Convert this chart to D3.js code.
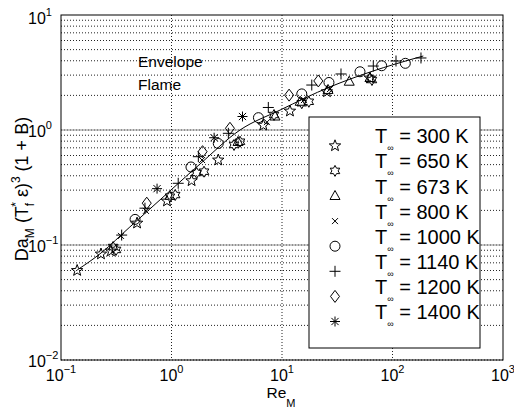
<!DOCTYPE html>
<html>
<head>
<meta charset="utf-8">
<script src="https://cdn.jsdelivr.net/npm/d3@7"></script>
<style>
  body { margin: 0; background: #fff; }
  text { font-family: "Liberation Sans", Arial, Helvetica, sans-serif; fill: #000; }
</style>
</head>
<body>
<div id="chart"></div>
<script>
// axis decades and their exponent labels
const xDecades = [0.1, 1, 10, 100, 1000];
const xExp = ["\u22121", "0", "1", "2", "3"];
const yDecades = [0.01, 0.1, 1, 10];
const yExp = ["\u22122", "\u22121", "0", "1"];

// T = 300 K (pentagram)
const re300 = [0.14, 0.23, 0.283, 0.488, 0.91, 1.52, 2.65, 6.78, 11.8, 25.5, 62.5];
const da300 = [0.060, 0.0835, 0.0887, 0.155, 0.241, 0.362, 0.548, 1.10, 1.46, 2.15, 2.83];
// T = 650 K (hexagram)
const re650 = [0.296, 0.315, 0.968, 1.08, 1.69, 1.97, 3.68, 4.17, 8.47, 15.1, 17.5, 65.2];
const da650 = [0.096, 0.0906, 0.263, 0.272, 0.423, 0.434, 0.741, 0.791, 1.35, 1.71, 1.76, 2.72];
// T = 673 K (triangle)
const re673 = [4.0, 8.64, 14.6, 26.1, 40.6, 62.5];
const da673 = [0.787, 1.31, 1.76, 2.23, 2.63, 2.83];
// T = 800 K (x)
const re800 = [0.349, 0.587, 1.89, 7.31, 15.8, 27.2];
const da800 = [0.120, 0.198, 0.548, 1.17, 1.82, 2.27];
// T = 1000 K (circle)
const re1000 = [0.468, 1.50, 2.65, 6.12, 15.1, 26.6, 50.8, 79.8, 130.6];
const da1000 = [0.167, 0.477, 0.763, 1.28, 2.06, 2.59, 3.21, 3.62, 3.80];
// T = 1140 K (plus)
const re1140 = [0.354, 0.575, 1.15, 1.75, 3.27, 7.52, 18.6, 34.2, 67.0, 107.6, 181];
const da1140 = [0.122, 0.209, 0.344, 0.586, 0.936, 1.57, 2.46, 3.07, 3.60, 3.98, 4.23];
// T = 1200 K (diamond)
const re1200 = [0.597, 1.91, 3.38, 11.6, 21.3];
const da1200 = [0.231, 0.648, 1.035, 2.01, 2.67];
// T = 1400 K (asterisk)
const re1400 = [0.740, 2.43, 4.39];
const da1400 = [0.309, 0.857, 1.31];

// correlation curve
const fitRe = [0.14, 0.23, 0.42, 0.99, 1.81, 4.17, 9.6, 27.2, 62.5, 190];
const fitDa = [0.0606, 0.0851, 0.1435, 0.301, 0.506, 1.0, 1.49, 2.37, 3.19, 4.40];

const legendTemps = ["300", "650", "673", "800", "1000", "1140", "1200", "1400"];
const noteLines = ["Envelope", "Flame"];

const width = 514, height = 409;
const plotL = 61, plotR = 503, plotT = 15, plotB = 360;

const svg = d3.select("#chart").append("svg")
  .attr("width", width)
  .attr("height", height);

const x = d3.scaleLog().domain([0.1, 1000]).range([plotL, plotR]);
const y = d3.scaleLog().domain([0.01, 10]).range([plotB, plotT]);

// marker shapes, centred on 0,0
function star(n, R, r) {
  const pts = [];
  for (let i = 0; i < 2 * n; i++) {
    const a = -Math.PI / 2 + i * Math.PI / n;
    const rr = i % 2 ? r : R;
    pts.push([rr * Math.cos(a), rr * Math.sin(a)]);
  }
  return "M" + pts.map(p => p[0].toFixed(2) + "," + p[1].toFixed(2)).join("L") + "Z";
}
function markerPath(type) {
  switch (type) {
    case "pentagram": return star(5, 6, 2.5);
    case "hexagram": return star(6, 5.5, 3.1);
    case "triangle": return "M0,-5.5L5,3.5L-5,3.5Z";
    case "times": return "M-3,-3L3,3M-3,3L3,-3";
    case "circle": return "M5,0A5,5 0 1,1 -5,0A5,5 0 1,1 5,0Z";
    case "plus": return "M-5.5,0L5.5,0M0,-5.5L0,5.5";
    case "diamond": return "M0,-6L4.5,0L0,6L-4.5,0Z";
    case "asterisk": return "M-5,0L5,0M0,-5L0,5M-3.6,-3.6L3.6,3.6M-3.6,3.6L3.6,-3.6";
  }
}

const series = [
  { re: re300, da: da300, sym: "pentagram" },
  { re: re650, da: da650, sym: "hexagram" },
  { re: re673, da: da673, sym: "triangle" },
  { re: re800, da: da800, sym: "times" },
  { re: re1000, da: da1000, sym: "circle" },
  { re: re1140, da: da1140, sym: "plus" },
  { re: re1200, da: da1200, sym: "diamond" },
  { re: re1400, da: da1400, sym: "asterisk" }
];

// grid: decades on x, decades + minor on y
const grid = svg.append("g")
  .attr("stroke", "#222")
  .attr("stroke-width", 1)
  .attr("stroke-dasharray", "1,2");

grid.selectAll("line.vx")
  .data(xDecades.slice(1, -1))
  .enter().append("line")
  .attr("x1", d => x(d)).attr("x2", d => x(d))
  .attr("y1", plotT).attr("y2", plotB);

const yMinor = [];
[0.01, 0.1, 1].forEach(dec => { for (let k = 1; k <= 9; k++) yMinor.push(dec * k); });
grid.selectAll("line.hy")
  .data(yMinor.concat([0.1, 1]))
  .enter().append("line")
  .attr("x1", plotL).attr("x2", plotR)
  .attr("y1", d => y(d)).attr("y2", d => y(d))
  .attr("stroke-dashoffset", (d, i) => i >= yMinor.length ? 1.5 : 0);

// fitted curve
const fit = fitRe.map((r, i) => [r, fitDa[i]]);
svg.append("path")
  .datum(fit)
  .attr("fill", "none")
  .attr("stroke", "#000")
  .attr("stroke-width", 1)
  .attr("d", d3.line().x(d => x(d[0])).y(d => y(d[1])).curve(d3.curveMonotoneX));

// data markers
series.forEach(s => {
  svg.append("g").selectAll("path")
    .data(s.re.map((r, i) => [r, s.da[i]]))
    .enter().append("path")
    .attr("transform", d => "translate(" + x(d[0]) + "," + y(d[1]) + ")")
    .attr("d", markerPath(s.sym))
    .attr("fill", "none")
    .attr("stroke", "#000")
    .attr("stroke-width", 1);
});

// annotation
svg.selectAll("text.note")
  .data(noteLines)
  .enter().append("text")
  .attr("x", 138)
  .attr("y", (d, i) => 67 + i * 23)
  .attr("font-size", 15.5)
  .text(d => d);

// legend
const lg = svg.append("g");
lg.append("rect")
  .attr("x", 309).attr("y", 117)
  .attr("width", 171).attr("height", 231)
  .attr("fill", "#fff")
  .attr("stroke", "#000")
  .attr("stroke-width", 1);

legendTemps.forEach((t, i) => {
  const base = 143.3 + i * 25.1;
  lg.append("path")
    .attr("transform", "translate(335," + (base + 2.5) + ")")
    .attr("d", markerPath(series[i].sym))
    .attr("fill", "none")
    .attr("stroke", "#000")
    .attr("stroke-width", 1);
  const tx = lg.append("text")
    .attr("x", 375).attr("y", base)
    .attr("font-size", 20);
  tx.append("tspan").text("T");
  tx.append("tspan").attr("font-size", 9).attr("dy", 8).text("\u221e");
  tx.append("tspan").attr("dy", -8).text(" = " + t + " K");
});

// axes box
svg.append("rect")
  .attr("x", plotL).attr("y", plotT)
  .attr("width", plotR - plotL).attr("height", plotB - plotT)
  .attr("fill", "none")
  .attr("stroke", "#000")
  .attr("stroke-width", 1);

// x tick labels
xDecades.forEach((v, i) => {
  const t = svg.append("text")
    .attr("x", x(v)).attr("y", 381)
    .attr("text-anchor", "middle")
    .attr("font-size", 16);
  t.append("tspan").text("10");
  t.append("tspan").attr("font-size", 11).attr("dy", -8).text(xExp[i]);
});

// y tick labels
yDecades.forEach((v, i) => {
  const t = svg.append("text")
    .attr("x", 28).attr("y", Math.max(y(v) + 6.5, 24))
    .attr("font-size", 16);
  t.append("tspan").text("10");
  t.append("tspan").attr("font-size", 11).attr("dy", -8).text(yExp[i]);
});

// x axis label
const xl = svg.append("text")
  .attr("x", 281).attr("y", 398)
  .attr("text-anchor", "middle")
  .attr("font-size", 15.5);
xl.append("tspan").text("Re");
xl.append("tspan").attr("font-size", 11).attr("dy", 9).text("M");

// y axis label
const yl = svg.append("text")
  .attr("transform", "translate(28,189) rotate(-90)")
  .attr("text-anchor", "middle")
  .attr("font-size", 18);
yl.append("tspan").text("Da");
yl.append("tspan").attr("font-size", 12).attr("dy", 6).text("M");
yl.append("tspan").attr("dy", -6).text(" (T");
yl.append("tspan").attr("font-size", 12).attr("dy", 6).text("f");
yl.append("tspan").attr("font-size", 12).attr("dx", -4).attr("dy", -14).text("*");
yl.append("tspan").attr("dy", 8).text(" \u03b5)");
yl.append("tspan").attr("font-size", 12).attr("dy", -8).text("3");
yl.append("tspan").attr("dy", 8).text(" (1 + B)");
</script>
</body>
</html>
